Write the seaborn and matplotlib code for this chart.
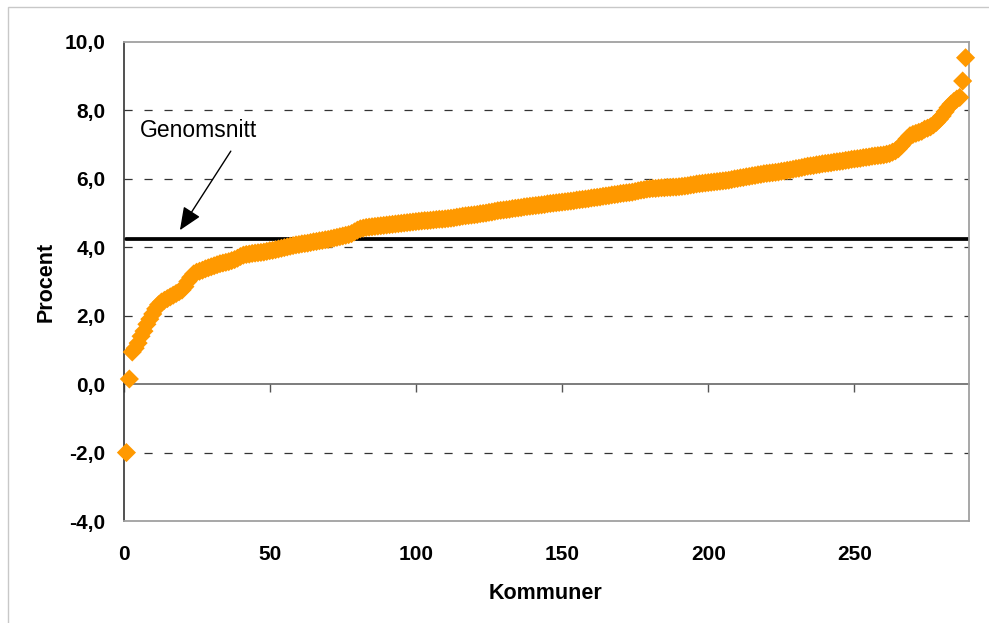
import matplotlib
matplotlib.use("Agg")
import matplotlib.pyplot as plt
import seaborn as sns
import pandas as pd
import numpy as np
from matplotlib.patches import Rectangle
from matplotlib.ticker import FuncFormatter

# ---- data (sorted values per kommun) ----
values = [
    -2.00, 0.15, 0.94, 1.05, 1.20, 1.40, 1.55, 1.75, 1.90, 2.05,
    2.20, 2.32, 2.40, 2.45, 2.50, 2.55, 2.60, 2.65, 2.70, 2.75,
    2.85, 3.00, 3.12, 3.22, 3.27, 3.30, 3.33, 3.37, 3.40, 3.43,
    3.46, 3.49, 3.52, 3.54, 3.56, 3.58, 3.61, 3.64, 3.68, 3.73,
    3.77, 3.79, 3.80, 3.82, 3.83, 3.84, 3.85, 3.86, 3.88, 3.90,
    3.91, 3.93, 3.95, 3.97, 3.99, 4.01, 4.03, 4.05, 4.07, 4.08,
    4.10, 4.11, 4.12, 4.14, 4.16, 4.17, 4.19, 4.20, 4.22, 4.23,
    4.25, 4.27, 4.29, 4.31, 4.33, 4.35, 4.37, 4.40, 4.45, 4.50,
    4.54, 4.56, 4.58, 4.59, 4.60, 4.61, 4.62, 4.63, 4.64, 4.65,
    4.66, 4.67, 4.68, 4.69, 4.70, 4.71, 4.72, 4.73, 4.74, 4.75,
    4.76, 4.77, 4.78, 4.78, 4.79, 4.80, 4.81, 4.82, 4.82, 4.83,
    4.84, 4.85, 4.86, 4.88, 4.89, 4.91, 4.92, 4.93, 4.94, 4.95,
    4.96, 4.98, 4.99, 5.00, 5.02, 5.03, 5.05, 5.07, 5.08, 5.09,
    5.10, 5.11, 5.13, 5.14, 5.15, 5.16, 5.18, 5.19, 5.20, 5.21,
    5.22, 5.23, 5.24, 5.25, 5.27, 5.28, 5.29, 5.30, 5.31, 5.32,
    5.33, 5.34, 5.35, 5.36, 5.38, 5.39, 5.40, 5.41, 5.42, 5.44,
    5.45, 5.46, 5.47, 5.49, 5.50, 5.51, 5.53, 5.54, 5.55, 5.57,
    5.58, 5.59, 5.60, 5.61, 5.63, 5.65, 5.67, 5.68, 5.70, 5.71,
    5.72, 5.72, 5.73, 5.74, 5.74, 5.75, 5.75, 5.76, 5.76, 5.77,
    5.78, 5.79, 5.80, 5.82, 5.83, 5.85, 5.86, 5.87, 5.88, 5.89,
    5.90, 5.91, 5.92, 5.93, 5.94, 5.95, 5.96, 5.98, 6.00, 6.01,
    6.03, 6.04, 6.06, 6.07, 6.09, 6.10, 6.12, 6.13, 6.15, 6.16,
    6.17, 6.18, 6.19, 6.20, 6.22, 6.23, 6.25, 6.26, 6.28, 6.30,
    6.31, 6.33, 6.35, 6.37, 6.38, 6.39, 6.41, 6.42, 6.44, 6.45,
    6.46, 6.47, 6.49, 6.50, 6.51, 6.52, 6.54, 6.55, 6.57, 6.58,
    6.59, 6.60, 6.62, 6.63, 6.64, 6.66, 6.67, 6.68, 6.69, 6.70,
    6.72, 6.74, 6.78, 6.82, 6.88, 6.97, 7.07, 7.17, 7.26, 7.30,
    7.33, 7.36, 7.39, 7.45, 7.48, 7.52, 7.58, 7.65, 7.74, 7.84,
    7.96, 8.08, 8.18, 8.26, 8.33, 8.38, 8.86, 9.54,
]
kommun = list(range(1, len(values) + 1))
genomsnitt = 4.24

y_ticks = [-4, -2, 0, 2, 4, 6, 8, 10]
x_ticks = [0, 50, 100, 150, 200, 250]
grid_levels = [-2, 2, 4, 6, 8]

df = pd.DataFrame({"Kommuner": kommun, "Procent": values})

# ---- styling ----
sns.set_theme(style="white")
plt.rcParams["font.family"] = ["Liberation Sans", "DejaVu Sans"]
plt.rcParams["text.color"] = "black"
plt.rcParams["axes.labelcolor"] = "black"
plt.rcParams["xtick.color"] = "black"
plt.rcParams["ytick.color"] = "black"

W, H = 989, 623
fig = plt.figure(figsize=(W / 100, H / 100), dpi=100)
fig.patch.set_facecolor("white")

# light grey chart-area border (top and left visible)
fig.patches.append(Rectangle((8 / W, -0.05), 1.2, 1 - 7 / H + 0.05,
                             transform=fig.transFigure, fill=False,
                             edgecolor="#c8c8c8", linewidth=1.0))

ax = fig.add_axes([123.5 / W, 1 - 521 / H, (968.5 - 123.5) / W, (521 - 42) / H])
ax.set_facecolor("white")

# dashed gridlines
for g in grid_levels:
    ax.axhline(g, color="#333333", linewidth=0.9,
               linestyle=(0, (6.5, 9.5)), zorder=1)

# mean line
ax.axhline(genomsnitt, xmin=0.003, xmax=1, color="black", linewidth=2.7, zorder=2)

sns.scatterplot(data=df, x="Kommuner", y="Procent", marker="D", s=95,
                color="#FF9900", edgecolor="none", linewidth=0, ax=ax,
                zorder=3, clip_on=False)

ax.set_xlim(0, 289)
ax.set_ylim(-4, 10)

ax.set_yticks(y_ticks)
ax.yaxis.set_major_formatter(FuncFormatter(lambda v, p: f"{v:.1f}".replace(".", ",")))
ax.set_xticks(x_ticks)

ax.tick_params(axis="y", which="major", direction="out", length=5, width=1,
               color="#333333", labelcolor="black", pad=8, labelsize=15)
ax.tick_params(axis="x", which="major", length=0, pad=17, labelsize=15,
               labelcolor="black")
for lab in ax.get_xticklabels() + ax.get_yticklabels():
    lab.set_fontweight("bold")

ax.set_xlabel("Kommuner", fontsize=15.5, fontweight="bold", labelpad=14,
              color="black")
ax.set_ylabel("Procent", fontsize=15.5, fontweight="bold", labelpad=6,
              color="black")

for side in ["top", "right", "bottom"]:
    ax.spines[side].set_color("#a0a0a0")
    ax.spines[side].set_linewidth(1.3)
ax.spines["left"].set_color("#333333")
ax.spines["left"].set_linewidth(1.2)

# horizontal axis crossing at zero, with its tick marks
loc0 = (0 - y_ticks[0]) / (y_ticks[-1] - y_ticks[0])
sec = ax.secondary_xaxis(loc0)
sec.set_xticks(x_ticks)
sec.set_xticklabels([""] * len(x_ticks))
sec.tick_params(axis="x", direction="out", length=6, width=1, color="#555555")
sec.spines["bottom"].set_color("#666666")
sec.spines["bottom"].set_linewidth(1.2)

# annotation
ax.annotate("", xy=(19.3, 4.50), xytext=(36.7, 6.81),
            arrowprops=dict(arrowstyle="-|>,head_length=0.7,head_width=0.3",
                            mutation_scale=20, color="black", lw=1.0,
                            shrinkA=0, shrinkB=0), zorder=4)
ax.text(5.6, 7.42, "Genomsnitt", fontsize=16.5, ha="left", va="center",
        color="black", zorder=4)

fig.savefig("out.png", dpi=100, facecolor="white")
